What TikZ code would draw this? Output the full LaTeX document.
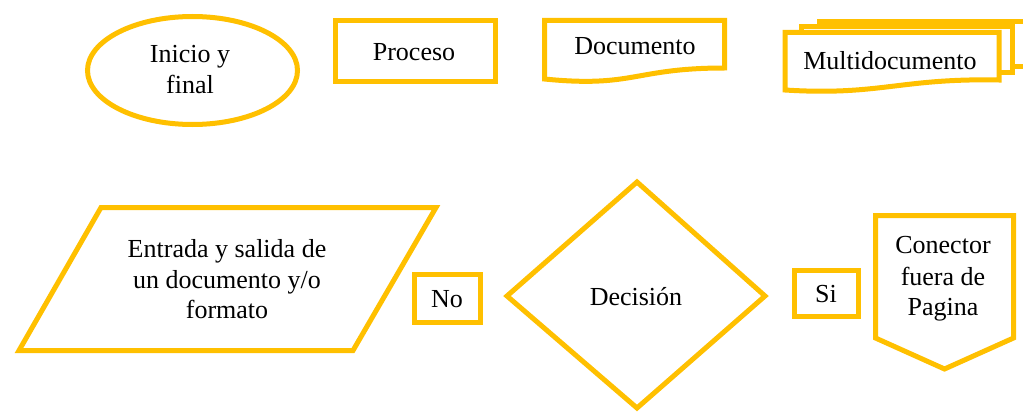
\documentclass[tikz,border=0pt]{standalone}
\usepackage{fontspec}
\setmainfont{Liberation Serif}
\definecolor{gold}{HTML}{FFC000}
\tikzset{
  shp/.style={draw=gold, line width=5pt, line join=miter, fill=white},
  lbl/.style={anchor=base, inner sep=0pt, font=\fontsize{26}{30}\selectfont}
}
\begin{document}
\begin{tikzpicture}[x=1pt,y=-1pt]
\clip (0,0) rectangle (1023,412);
\fill[white] (0,0) rectangle (1023,412);
% Inicio y final
\draw[shp] (192.5,70.5) ellipse [x radius=105, y radius=54];
\node[lbl] (ini1) at (190,63) {Inicio y};
\node[lbl] (ini2) at (190,93) {final};
% Proceso
\draw[shp] (335.5,20.5) rectangle (495.5,81.5);
\node[lbl] (proc) at (414,60) {Proceso};
% Documento
\draw[shp] (544.5,20.5) -- (724.5,20.5) -- (724.5,68)
  .. controls (634,68) and (634,88) .. (544.5,79) -- cycle;
\node[lbl] (doc) at (635,55) {Documento};
% Multidocumento
\draw[shp] (819,27) -- (819,22) -- (1030,22) -- (1030,67) -- (1012,67);
\draw[shp] (801,34) -- (801,27) -- (1012,27) -- (1012,73) -- (999,73);
\draw[shp] (785,32.5) -- (999,32.5) -- (999,80)
  .. controls (900,78) and (880,96) .. (785,90) -- cycle;
\node[lbl] (mdoc) at (890,70) {Multidocumento};
% Entrada y salida
\draw[shp] (101,207.5) -- (436,207.5) -- (353,350.5) -- (19,350.5) -- cycle;
\node[lbl] (es1) at (227,257) {Entrada y salida de};
\node[lbl] (es2) at (227,288) {un documento y/o};
\node[lbl] (es3) at (227,318) {formato};
% No
\draw[shp] (414.5,274.5) rectangle (480.5,322.5);
\node[lbl] (no) at (447,307) {No};
% Decision
\draw[shp] (637,182) -- (765,296) -- (637,408) -- (507,296) -- cycle;
\node[lbl] (dec) at (636,305) {Decisión};
% Si
\draw[shp] (794.5,270.5) rectangle (858.5,316.5);
\node[lbl] (si) at (826,302) {Si};
% Conector fuera de pagina
\draw[shp] (875.5,215.5) -- (1013.5,215.5) -- (1013.5,338) -- (944.5,369) -- (875.5,338) -- cycle;
\node[lbl] (con1) at (943,253) {Conector};
\node[lbl] (con2) at (943,285) {fuera de};
\node[lbl] (con3) at (943,315) {Pagina};
\end{tikzpicture}
\end{document}
